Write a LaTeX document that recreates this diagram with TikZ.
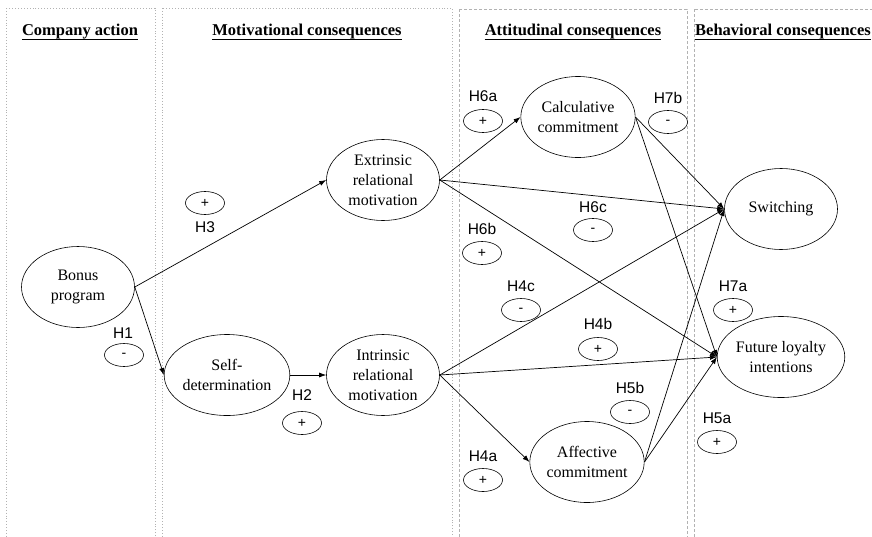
\documentclass[tikz,border=0pt]{standalone}
\usepackage{fontspec}
\setmainfont{Liberation Serif}
\setsansfont{Liberation Sans}
\usetikzlibrary{shapes.geometric, arrows.meta}
\begin{document}
\begin{tikzpicture}
[
x=1pt, y=-1pt,
construct/.style={ellipse, draw, line width=0.6pt, minimum width=113, minimum height=81, inner sep=0, align=center, font=\fontsize{16}{20}\selectfont},
sign/.style={ellipse, draw, line width=0.6pt, minimum width=39, minimum height=23, inner sep=0, font=\sffamily\fontsize{14}{14}\selectfont},
hyp/.style={font=\sffamily\fontsize{15.5}{16}\selectfont, inner sep=0},
header/.style={anchor=base, inner sep=0, font=\bfseries\fontsize{16.5}{18}\selectfont},
panel/.style={draw=gray!60, dotted, line width=0.9pt},
panelb/.style={draw=gray!60, densely dashed, line width=0.5pt},
link/.style={-{Latex[length=7pt, width=5pt]}, line width=0.7pt}
]
\useasboundingbox (0,0) rectangle (872,536);
\clip (0,0) rectangle (872,536);
%Panels
\draw[panel]  (6,8) rectangle (155,560);
\draw[panel]  (162,8) rectangle (452,560);
\draw[panelb] (459,9) rectangle (687,560);
\draw[panelb] (694,9) rectangle (890,560);
%Headers
\node[header] at(80,35)		(h1) {Company action};
\node[header] at(307,35)	(h2) {Motivational consequences};
\node[header] at(573,35)	(h3) {Attitudinal consequences};
\node[header] at(783,35)	(h4) {Behavioral consequences};
\foreach \h in {h1,h2,h3,h4}
  \draw[line width=1.6pt] ([yshift=-4.5pt]\h.base west) -- ([yshift=-4.5pt]\h.base east);
%Nodes
\node[construct] at(78,287)		(bonus) {Bonus\\program};
\node[construct] at(227,375)	(self) {Self-\\determination};
\node[construct] at(383,180)	(extr) {Extrinsic\\relational\\motivation};
\node[construct] at(383,375)	(intr) {Intrinsic\\relational\\motivation};
\node[construct] at(578,117)	(calc) {Calculative\\commitment};
\node[construct] at(587,462)	(affe) {Affective\\commitment};
\node[construct] at(781,209)	(swit) {Switching};
\node[construct] at(781,357)	(loya) {Future loyalty\\intentions};
%Hypotheses
\node[hyp]  at(205,227)		(t3) {H3};
\node[sign] at(205,203)		(s3) {+};
\node[hyp]  at(123,333)		(t1) {H1};
\node[sign] at(124,355)		(s1) {-};
\node[hyp]  at(302,395)		(t2) {H2};
\node[sign] at(302,423)		(s2) {+};
\node[hyp]  at(483,96)		(t6a) {H6a};
\node[sign] at(483,121)		(s6a) {+};
\node[hyp]  at(482,229)		(t6b) {H6b};
\node[sign] at(482,253)		(s6b) {+};
\node[hyp]  at(593,207)		(t6c) {H6c};
\node[sign] at(593,230)		(s6c) {-};
\node[hyp]  at(668,98)		(t7b) {H7b};
\node[sign] at(668,122)		(s7b) {-};
\node[hyp]  at(733,286)		(t7a) {H7a};
\node[sign] at(733,310)		(s7a) {+};
\node[hyp]  at(521,286)		(t4c) {H4c};
\node[sign] at(521,310)		(s4c) {-};
\node[hyp]  at(598,324)		(t4b) {H4b};
\node[sign] at(598,349)		(s4b) {+};
\node[hyp]  at(483,456)		(t4a) {H4a};
\node[sign] at(483,480)		(s4a) {+};
\node[hyp]  at(630,388)		(t5b) {H5b};
\node[sign] at(630,412)		(s5b) {-};
\node[hyp]  at(717,418)		(t5a) {H5a};
\node[sign] at(717,442)		(s5a) {+};
%Links
\draw[link] (bonus.east) -- (extr.west);
\draw[link] (bonus.east) -- (self.west);
\draw[link] (self.east) -- (intr.west);
\draw[link] (extr.east) -- (calc.west);
\draw[link] (extr.east) -- (swit.west);
\draw[link] (extr.east) -- (loya.west);
\draw[link] (intr.east) -- (swit.west);
\draw[link] (intr.east) -- (loya.west);
\draw[link] (intr.east) -- (affe.west);
\draw[link] (calc.east) -- (swit.west);
\draw[link] (calc.east) -- (loya.west);
\draw[link] (affe.east) -- (swit.west);
\draw[link] (affe.east) -- (loya.west);
\end{tikzpicture}
\end{document}
